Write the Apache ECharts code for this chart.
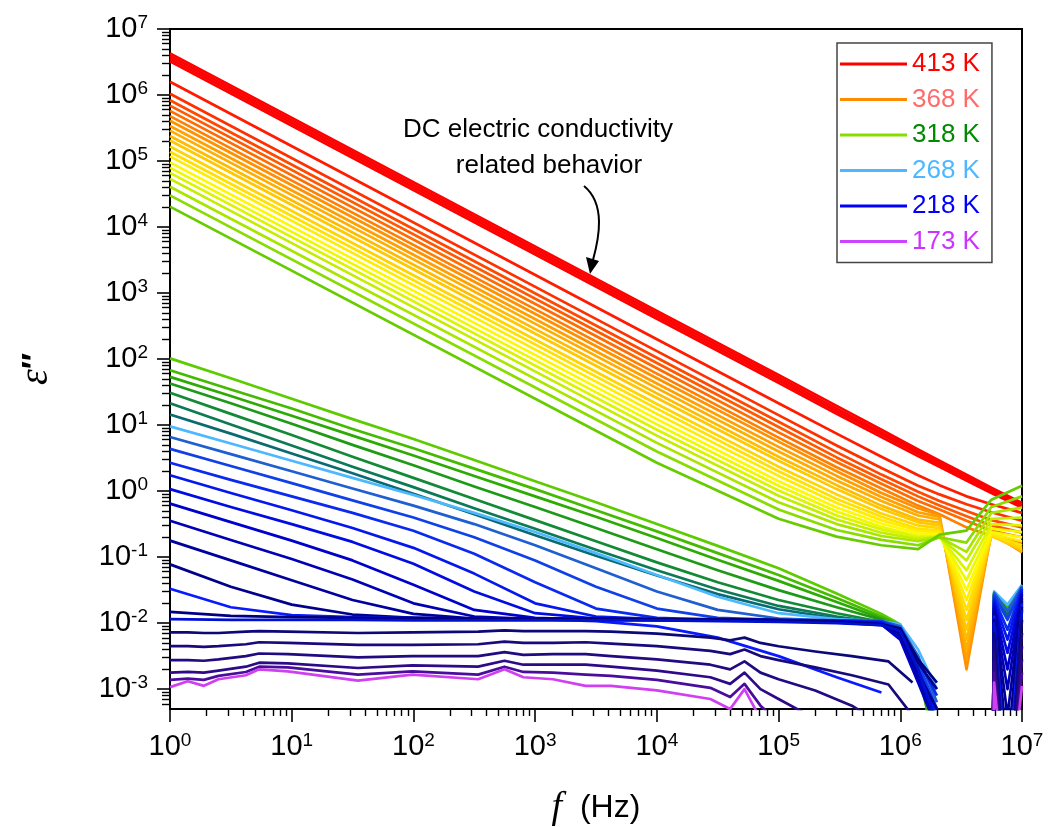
<!DOCTYPE html>
<html>
<head>
<meta charset="utf-8">
<script src="https://cdn.jsdelivr.net/npm/echarts/dist/echarts.min.js"></script>
<style>
  html, body { margin: 0; padding: 0; background: #ffffff; }
  #chart { width: 1059px; height: 827px; }
</style>
</head>
<body>
<div id="chart"></div>
<script>
// Dielectric loss ε'' versus frequency, one curve per temperature.
// Values are stored as lg(ε'') ; frequencies in Hz.

const LG_Y_MIN = Math.log10(5e-4);
const LG_Y_MAX = 7;
const LG_X_MIN = 0;
const LG_X_MAX = 7;

const Y_TICK_EXP = [-3, -2, -1, 0, 1, 2, 3, 4, 5, 6, 7];

// ---------- high-temperature (conductive) curves ----------
const FREQ_HOT = [1, 1e4, 1e5, 3e5, 7e5, 1.4e6, 2.1e6, 3.5e6, 5.6e6, 1e7];
const hot01 = [6.63, 2.73, 1.76, 1.29, 0.93, 0.63, 0.46, 0.25, 0.05, -0.18];
const hot02 = [6.59, 2.69, 1.72, 1.25, 0.89, 0.60, 0.43, 0.22, 0.03, -0.20];
const hot03 = [6.55, 2.65, 1.68, 1.21, 0.86, 0.57, 0.40, 0.19, 0.00, -0.22];
const hot04 = [6.51, 2.61, 1.64, 1.17, 0.82, 0.53, 0.37, 0.16, -0.03, -0.25];
const hot05 = [6.20, 2.30, 1.33, 0.87, 0.52, 0.24, 0.09, -0.08, -0.20, -0.33];
const hot06 = [6.02, 2.12, 1.15, 0.69, 0.35, 0.08, -0.05, -0.20, -0.32, -0.45];
const hot07 = [5.92, 2.02, 1.05, 0.59, 0.25, -0.01, -0.15, -0.30, -0.44, -0.55];
const hot08 = [5.84, 1.94, 0.97, 0.51, 0.18, -0.08, -0.22, -0.38, -0.52, -0.63];
const hot09 = [5.76, 1.86, 0.89, 0.44, 0.11, -0.15, -0.28, -0.45, -0.60, -0.70];
const hot10 = [5.68, 1.78, 0.81, 0.36, 0.04, -0.22, -0.35, -0.55, -0.68, -0.78];
const hot11 = [5.61, 1.71, 0.75, 0.30, -0.03, -0.26, -0.36, -2.70, -0.62, -0.93];
const hot12 = [5.53, 1.63, 0.67, 0.23, -0.09, -0.32, -0.39, -2.55, -0.64, -0.92];
const hot13 = [5.46, 1.56, 0.60, 0.16, -0.15, -0.37, -0.43, -2.40, -0.66, -0.91];
const hot14 = [5.38, 1.48, 0.52, 0.09, -0.22, -0.43, -0.48, -2.25, -0.67, -0.90];
const hot15 = [5.31, 1.41, 0.46, 0.03, -0.27, -0.47, -0.52, -2.10, -0.68, -0.88];
const hot16 = [5.22, 1.32, 0.37, -0.05, -0.34, -0.52, -0.56, -1.95, -0.68, -0.86];
const hot17 = [5.14, 1.25, 0.30, -0.12, -0.39, -0.57, -0.60, -1.80, -0.67, -0.82];
const hot18 = [5.07, 1.17, 0.23, -0.18, -0.44, -0.60, -0.63, -1.65, -0.65, -0.76];
const hot19 = [4.98, 1.09, 0.15, -0.25, -0.49, -0.64, -0.66, -1.50, -0.62, -0.70];
const hot20 = [4.90, 1.01, 0.08, -0.31, -0.54, -0.68, -0.68, -1.35, -0.57, -0.62];
const hot21 = [4.82, 0.93, 0.01, -0.37, -0.58, -0.70, -0.69, -1.20, -0.50, -0.52];
const hot22 = [4.73, 0.84, -0.07, -0.43, -0.63, -0.73, -0.69, -1.05, -0.42, -0.40];
const hot23 = [4.61, 0.73, -0.17, -0.50, -0.68, -0.76, -0.70, -0.92, -0.33, -0.25];
const hot24 = [4.48, 0.60, -0.28, -0.59, -0.74, -0.82, -0.70, -0.78, -0.24, -0.08];
const hot25 = [4.31, 0.43, -0.42, -0.69, -0.82, -0.88, -0.66, -0.60, -0.13, 0.08];

const HOT_CURVES = [hot01, hot02, hot03, hot04, hot05, hot06, hot07, hot08, hot09, hot10,
  hot11, hot12, hot13, hot14, hot15, hot16, hot17, hot18, hot19, hot20,
  hot21, hot22, hot23, hot24, hot25];
const HOT_COLORS = ['#ff0000', '#ff0000', '#ff0000', '#ff0000', '#ff1a00', '#ff3000', '#ff4800',
  '#ff5a00', '#ff6c00', '#ff8000', '#ff9000', '#ffa000', '#ffad00', '#ffbb00', '#ffc800',
  '#ffd400', '#ffe000', '#ffec00', '#fff800', '#f0f800', '#dcf400', '#c4ee00', '#a8e600',
  '#88dc00', '#66cc00'];

// ---------- low-temperature curves, sloped part ----------
const FREQ_COLD_A = [1, 3.16, 10, 31.6, 100, 316, 1e3, 3.16e3, 1e4, 3.16e4, 1e5, 3e5, 7e5,
  1e6, 1.4e6, 2e6, 5.7e6, 5.9e6, 7.6e6, 1e7];
const cold01 = [2.01, 1.71, 1.40, 1.09, 0.79, 0.47, 0.15, -0.17, -0.50, -0.83, -1.17, -1.55, -1.86, -2.02, -2.70, -4.0, -5, -1.56, -1.78, -1.46];
const cold02 = [1.83, 1.54, 1.25, 0.94, 0.65, 0.34, 0.03, -0.29, -0.61, -0.94, -1.27, -1.62, -1.90, -2.04, -2.60, -3.8, -5, -1.55, -1.76, -1.45];
const cold03 = [1.73, 1.44, 1.14, 0.84, 0.54, 0.23, -0.08, -0.39, -0.71, -1.04, -1.36, -1.68, -1.93, -2.06, -2.75, -3.9, -5, -1.56, -1.80, -1.46];
const cold04 = [1.63, 1.33, 1.02, 0.70, 0.39, 0.07, -0.24, -0.56, -0.88, -1.20, -1.50, -1.76, -1.95, -2.08, -2.50, -3.6, -5, -1.57, -1.82, -1.47];
const cold05 = [1.49, 1.17, 0.85, 0.52, 0.20, -0.12, -0.44, -0.76, -1.08, -1.38, -1.65, -1.85, -1.98, -2.10, -2.70, -3.5, -5, -1.57, -1.85, -1.47];
const cold06 = [1.33, 1.01, 0.69, 0.37, 0.06, -0.26, -0.57, -0.89, -1.20, -1.49, -1.74, -1.90, -2.00, -2.12, -2.60, -3.5, -5, -1.58, -1.88, -1.48];
const cold07 = [1.16, 0.87, 0.57, 0.27, -0.04, -0.35, -0.67, -0.98, -1.28, -1.56, -1.79, -1.93, -2.01, -2.14, -2.80, -3.6, -5, -1.58, -1.90, -1.48];
const cold08 = [0.98, 0.72, 0.46, 0.20, -0.06, -0.33, -0.62, -0.94, -1.27, -1.60, -1.85, -1.94, -1.97, -2.02, -2.40, -3.0, -5, -1.52, -1.72, -1.42];
const cold09 = [0.82, 0.56, 0.30, 0.04, -0.22, -0.50, -0.82, -1.17, -1.52, -1.80, -1.93, -1.96, -1.97, -2.05, -2.50, -3.2, -5, -1.54, -1.82, -1.44];
const cold10 = [0.64, 0.38, 0.12, -0.14, -0.40, -0.70, -1.05, -1.45, -1.78, -1.92, -1.95, -1.96, -1.97, -2.08, -2.60, -3.3, -5, -1.58, -1.95, -1.46];
const cold11 = [0.43, 0.17, -0.08, -0.33, -0.60, -0.95, -1.38, -1.78, -1.92, -1.95, -1.96, -1.96, -1.98, -2.10, -2.55, -3.1, -5, -1.62, -2.10, -1.48];
const cold12 = [0.24, -0.03, -0.29, -0.56, -0.86, -1.25, -1.70, -1.90, -1.94, -1.95, -1.96, -1.97, -1.99, -2.15, -2.70, -3.4, -5, -1.66, -2.25, -1.50];
const cold13 = [0.03, -0.24, -0.50, -0.77, -1.10, -1.52, -1.85, -1.93, -1.95, -1.96, -1.96, -1.97, -2.00, -2.20, -2.80, -3.5, -5, -1.70, -2.45, -1.52];
const cold14 = [-0.19, -0.47, -0.75, -1.05, -1.42, -1.80, -1.92, -1.95, -1.95, -1.96, -1.96, -1.97, -2.02, -2.25, -2.90, -3.6, -5, -1.74, -2.70, -1.55];
const cold15 = [-0.45, -0.74, -1.03, -1.34, -1.70, -1.90, -1.94, -1.95, -1.95, -1.95, -1.96, -1.98, -2.02, -2.20, -2.85, -3.6, -5, -1.78, -3.00, -1.58];
const cold16 = [-0.75, -1.05, -1.35, -1.65, -1.86, -1.93, -1.94, -1.94, -1.95, -1.95, -1.96, -1.98, -2.02, -2.15, -2.75, -3.3, -5, -1.82, -3.40, -1.62];
const cold17 = [-1.11, -1.45, -1.72, -1.87, -1.92, -1.93, -1.94, -1.94, -1.95, -1.95, -1.96, -1.99, -2.03, -2.10, -2.60, -3.0, -5, -1.86, -3.90, -1.66];
const cold18 = [-1.48, -1.76, -1.88, -1.91, -1.92, -1.93, -1.94, -1.97, -2.05, -2.22, -2.50, -2.82, -3.05, null, null, null, -5, -1.90, -4.50, -1.70];
const cold19 = [-1.83, -1.89, -1.91, -1.92, -1.92, -1.93, -1.93, -1.93, -1.94, -1.94, -1.95, -1.98, -2.02, -2.08, -2.55, -2.90, -5, -1.95, -5, -1.75];
const cold20 = [-1.94, -1.95, -1.95, -1.95, -1.96, -1.96, -1.96, -1.96, -1.96, -1.97, -1.98, -2.00, -2.03, -2.12, -2.70, -3.5, -5, -2.00, -5, -1.80];

// ---------- low-temperature curves, nearly flat part ----------
const FREQ_COLD_B = [1, 1.4, 1.9, 2.5, 4.2, 5.4, 9.3, 35, 98, 340, 560, 800, 1400, 2600, 4200,
  1e4, 2.75e4, 4e4, 5.25e4, 7.1e4, 1e5, 2e5, 4e5, 8e5, 1.26e6, 5.7e6, 5.9e6, 7.6e6, 1e7];
const cold21 = [-2.14, -2.14, -2.15, -2.15, -2.13, -2.12, -2.13, -2.15, -2.14, -2.13, -2.11, -2.12, -2.12, -2.12, -2.13, -2.16, -2.22, -2.26, -2.22, -2.30, -2.35, -2.43, -2.50, -2.58, -2.90, -5, -2.15, -5, -1.95];
const cold22 = [-2.35, -2.35, -2.36, -2.35, -2.32, -2.29, -2.30, -2.33, -2.33, -2.32, -2.28, -2.30, -2.30, -2.29, -2.31, -2.35, -2.42, -2.47, -2.40, -2.50, -2.56, -2.67, -2.79, -2.93, -3.40, -5, -2.30, -5, -2.15];
const cold23 = [-2.56, -2.56, -2.57, -2.55, -2.50, -2.46, -2.47, -2.52, -2.50, -2.50, -2.44, -2.48, -2.47, -2.47, -2.50, -2.55, -2.63, -2.70, -2.58, -2.75, -2.85, -3.02, -3.25, -3.60, -4.0, -5, -2.45, -5, -2.35];
const cold24 = [-2.75, -2.74, -2.75, -2.72, -2.66, -2.60, -2.61, -2.68, -2.64, -2.66, -2.57, -2.63, -2.63, -2.63, -2.66, -2.72, -2.82, -2.92, -2.75, -3.00, -3.15, -3.45, -3.80, -4.2, -4.5, -5, -2.60, -5, -2.55];
const cold25 = [-2.86, -2.84, -2.86, -2.80, -2.74, -2.66, -2.67, -2.78, -2.73, -2.78, -2.66, -2.74, -2.75, -2.78, -2.80, -2.86, -2.98, -3.12, -2.92, -3.25, -3.50, -3.9, -4.3, -4.6, -4.8, -5, -2.75, -5, -2.75];
const cold26 = [-2.97, -2.88, -2.95, -2.85, -2.79, -2.70, -2.73, -2.87, -2.78, -2.85, -2.70, -2.82, -2.85, -2.95, -2.95, -3.02, -3.15, -3.30, -3.00, -3.45, -3.70, -4.0, -4.4, -4.7, -4.9, -5, -2.90, -5, -2.95];

const COLD_A_CURVES = [cold01, cold02, cold03, cold04, cold05, cold06, cold07, cold08, cold09, cold10,
  cold11, cold12, cold13, cold14, cold15, cold16, cold17, cold18, cold19, cold20];
const COLD_B_CURVES = [cold21, cold22, cold23, cold24, cold25, cold26];
const COLD_COLORS = ['#5ccc00', '#44bb00', '#2eaa05', '#1e9a18', '#138a35', '#0b7a55', '#0a6a72',
  '#4db8ff', '#1f5fd0', '#1040e8', '#0a2af0', '#0418ee', '#000ce0', '#0000cc', '#0000b4',
  '#00009c', '#00008c', '#0a1aff', '#000080', '#0010d0',
  '#0c0878', '#180a7c', '#220a80', '#2e0a88', '#4a0c9c', '#d040f0'];

// Legend entries: which curve each names, plus its colours
const LEGEND_NAMES = ['413 K', '368 K', '318 K', '268 K', '218 K', '173 K'];
const LEGEND_LINE_COLORS = ['#ff0000', '#ff8c00', '#88dd00', '#4db8ff', '#0000ff', '#cc44ff'];
const LEGEND_TEXT_COLORS = ['#ff0000', '#ff6b6b', '#008a00', '#4db8ff', '#0000ff', '#cc33ff'];
const LEGEND_CURVES = { hot01: '413 K', hot10: '368 K', hot24: '318 K', cold08: '268 K', cold18: '218 K', cold26: '173 K' };

const SANS = 'Liberation Sans, Arial, sans-serif';
const SERIF = 'Liberation Serif, Times New Roman, serif';

function toPoints(freqs, vals, keep) {
  const pts = [];
  freqs.forEach(function (f, k) {
    if (!keep(f)) return;
    const v = vals[k];
    pts.push([Math.log10(f), v === null ? '-' : v]);
  });
  return pts;
}

function lineSeries(name, data, color) {
  return {
    type: 'line', name: name, data: data,
    symbol: 'none', showSymbol: false, smooth: false,
    connectNulls: false, clip: true, silent: true, animation: false,
    lineStyle: { color: color, width: 2.7, join: 'round' },
    itemStyle: { color: color },
    emphasis: { disabled: true }
  };
}

const series = [];
HOT_CURVES.forEach(function (vals, i) {
  const id = 'hot' + String(i + 1).padStart(2, '0');
  series.push(lineSeries(LEGEND_CURVES[id] || id, toPoints(FREQ_HOT, vals, function () { return true; }), HOT_COLORS[i]));
});
function addCold(freqs, vals, idx) {
  const id = 'cold' + String(idx + 1).padStart(2, '0');
  const color = COLD_COLORS[idx];
  series.push(lineSeries(LEGEND_CURVES[id] || id, toPoints(freqs, vals, function (f) { return f < 5e6; }), color));
  series.push(lineSeries(id + '-hf', toPoints(freqs, vals, function (f) { return f >= 5e6; }), color));
}
COLD_A_CURVES.forEach(function (vals, i) { addCold(FREQ_COLD_A, vals, i); });
COLD_B_CURVES.forEach(function (vals, i) { addCold(FREQ_COLD_B, vals, i + COLD_A_CURVES.length); });

// minor tick positions (lg of 2..9 × 10^k)
const X_MINOR = [];
for (let k = 0; k < 7; k++) for (let m = 2; m <= 9; m++) X_MINOR.push(k + Math.log10(m));
const Y_MINOR = [];
for (let k = -4; k < 7; k++) for (let m = 2; m <= 9; m++) {
  const v = k + Math.log10(m);
  if (v > LG_Y_MIN + 1e-6 && v < LG_Y_MAX) Y_MINOR.push(v);
}

const powLabel = function (v) { return '{b|10}{s|' + Math.round(v) + '}'; };
const labelRich = {
  b: { fontSize: 29, fontFamily: SANS, color: '#000', lineHeight: 32 },
  s: { fontSize: 19, fontFamily: SANS, color: '#000', lineHeight: 19, verticalAlign: 'top' }
};

const chart = echarts.init(document.getElementById('chart'), null, { renderer: 'canvas' });
chart.setOption({
  backgroundColor: '#ffffff',
  animation: false,
  grid: {
    left: 170, right: 37, top: 29, bottom: 118,
    outerBoundsMode: 'none', containLabel: false,
    show: true, borderColor: '#000', borderWidth: 2, backgroundColor: 'transparent'
  },
  legend: {
    orient: 'vertical', left: 837, top: 43,
    icon: 'rect', itemWidth: 67, itemHeight: 3, itemGap: 9.5,
    borderColor: '#444', borderWidth: 1.5, padding: [8, 12, 8, 3],
    backgroundColor: '#fff',
    textStyle: { fontSize: 26, fontFamily: SANS, lineHeight: 26 },
    selectedMode: false,
    data: LEGEND_NAMES.map(function (n, k) {
      return {
        name: n,
        icon: 'rect',
        textStyle: { color: LEGEND_TEXT_COLORS[k] },
        itemStyle: { color: LEGEND_LINE_COLORS[k], borderWidth: 0 }
      };
    })
  },
  xAxis: [{
    type: 'value', min: LG_X_MIN, max: LG_X_MAX, interval: 1, position: 'bottom',
    axisLine: { show: true, onZero: false, lineStyle: { color: '#000', width: 2 } },
    axisTick: { show: true, inside: false, length: 13, lineStyle: { color: '#000', width: 1.6 } },
    splitLine: { show: false },
    axisLabel: { margin: 22, formatter: powLabel, rich: labelRich },
    name: '{i|f}{n|  (Hz)}', nameLocation: 'middle', nameGap: 80,
    nameTextStyle: {
      rich: {
        i: { fontFamily: SERIF, fontStyle: 'italic', fontSize: 38, color: '#000' },
        n: { fontFamily: SANS, fontSize: 32, color: '#000' }
      }
    }
  }, {
    type: 'value', min: LG_X_MIN, max: LG_X_MAX, position: 'bottom',
    axisLine: { show: false, onZero: false },
    axisTick: { show: true, inside: false, length: 7, customValues: X_MINOR, lineStyle: { color: '#000', width: 1.4 } },
    axisLabel: { show: false }, splitLine: { show: false }
  }],
  yAxis: [{
    type: 'value', min: LG_Y_MIN, max: LG_Y_MAX, position: 'left',
    axisLine: { show: true, onZero: false, lineStyle: { color: '#000', width: 2 } },
    axisTick: { show: true, inside: false, length: 13, customValues: Y_TICK_EXP, lineStyle: { color: '#000', width: 1.6 } },
    splitLine: { show: false },
    axisLabel: { margin: 22, customValues: Y_TICK_EXP, formatter: powLabel, rich: labelRich },
    name: '{e|ε}{p|″}', nameLocation: 'middle', nameGap: 114,
    nameTextStyle: {
      rich: {
        e: { fontFamily: SERIF, fontStyle: 'italic', fontSize: 40, color: '#000' },
        p: { fontFamily: SANS, fontWeight: 'bold', fontSize: 34, color: '#000' }
      }
    }
  }, {
    type: 'value', min: LG_Y_MIN, max: LG_Y_MAX, position: 'left',
    axisLine: { show: false, onZero: false },
    axisTick: { show: true, inside: false, length: 8, customValues: Y_MINOR, lineStyle: { color: '#000', width: 1.4 } },
    axisLabel: { show: false }, splitLine: { show: false }
  }],
  graphic: [
    { type: 'text', x: 538, y: 130, silent: true,
      style: { text: 'DC electric conductivity', font: '26px ' + SANS, fill: '#000', textAlign: 'center', textVerticalAlign: 'middle' } },
    { type: 'text', x: 549, y: 166, silent: true,
      style: { text: 'related behavior', font: '26px ' + SANS, fill: '#000', textAlign: 'center', textVerticalAlign: 'middle' } },
    { type: 'bezierCurve', silent: true,
      shape: { x1: 584, y1: 186, cpx1: 606, cpy1: 204, cpx2: 599, cpy2: 238, x2: 593, y2: 260 },
      style: { stroke: '#000', lineWidth: 2, fill: null } },
    { type: 'polygon', silent: true,
      shape: { points: [[586, 257], [599, 261], [590, 274]] },
      style: { fill: '#000' } }
  ],
  series: series
});
</script>
</body>
</html>
